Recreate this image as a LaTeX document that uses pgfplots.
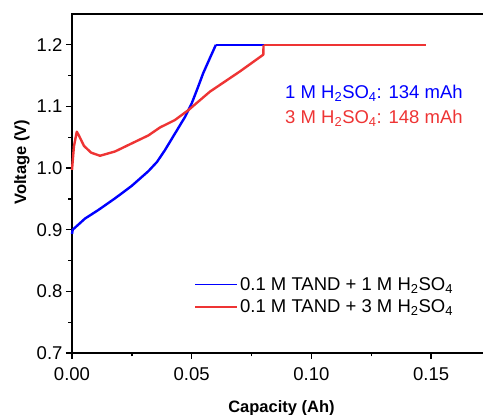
\documentclass[border=0pt]{standalone}
\usepackage{fontspec}
\setmainfont{Liberation Sans}
\usepackage{pgfplots}
\pgfplotsset{compat=1.18}
\definecolor{myblue}{RGB}{0,0,255}
\definecolor{myred}{RGB}{238,52,52}
\begin{document}
\begin{tikzpicture}
\begin{axis}[
  scale only axis,
  width=419pt, height=339pt,
  xmin=0, xmax=0.175, ymin=0.7, ymax=1.25,
  xtick={0,0.05,0.1,0.15},
  ytick={0.7,0.8,0.9,1.0,1.1,1.2},
  minor x tick num=1, minor y tick num=1,
  tick pos=left, tick align=outside,
  major tick length=6pt, minor tick length=3.5pt,
  every tick/.style={black, line width=1.3pt},
  axis line style={line width=1.6pt},
  /pgf/number format/assume math mode=true,
  xticklabel style={yshift=-5pt, /pgf/number format/.cd, fixed, fixed zerofill, precision=2},
  yticklabel style={/pgf/number format/.cd, fixed, fixed zerofill, precision=1},
  tick label style={font=\fontsize{18.5}{20}\selectfont},
  xlabel={\textbf{Capacity (Ah)}},
  ylabel={\textbf{Voltage (V)}},
  label style={font=\fontsize{16.5}{18}\selectfont},
  xlabel style={at={(rel axis cs:0.5,0)}, anchor=center, yshift=-55pt},
  ylabel style={at={(rel axis cs:0,0.563)}, anchor=center, yshift=50pt},
  legend style={at={(rel axis cs:0.285,0.235)}, anchor=north west, draw=none, fill=none,
    font=\fontsize{18.5}{20}\selectfont, row sep=4pt},
  legend cell align=left,
  legend image code/.code={\draw[#1, line width=1.5pt] (0pt,0pt) -- (42pt,0pt);},
  clip=false,
]
\addplot[myblue, line width=2.4pt, line join=round] coordinates {
(0,0.893) (0.0003,0.900) (0.002,0.906) (0.0054,0.918) (0.011,0.932) (0.018,0.951)
(0.0249,0.971) (0.0319,0.995) (0.0355,1.010) (0.0388,1.029) (0.043,1.056)
(0.0472,1.083) (0.050,1.105) (0.0525,1.130) (0.0548,1.154) (0.058,1.182) (0.0601,1.200)
};
\addplot[myblue, line width=1.8pt, forget plot] coordinates {(0.0601,1.200) (0.134,1.200)};
\addlegendentry{0.1 M TAND + 1 M H\textsubscript{2}SO\textsubscript{4}}
\addplot[myred, line width=2.4pt, line join=round] coordinates {
(0,0.997) (0.0008,1.035) (0.002,1.059) (0.003,1.052) (0.005,1.036) (0.008,1.025)
(0.0117,1.020) (0.018,1.027) (0.0228,1.036) (0.0319,1.053) (0.0368,1.066)
(0.043,1.078) (0.0486,1.094) (0.0576,1.124) (0.0702,1.157) (0.0799,1.184)
(0.0800,1.200)
};
\addlegendentry{0.1 M TAND + 3 M H\textsubscript{2}SO\textsubscript{4}}
\addplot[myred, line width=1.8pt, forget plot] coordinates {(0.0800,1.200) (0.148,1.200)};
\node[anchor=base east, text=myblue, font=\fontsize{18.5}{20}\selectfont, inner sep=0pt]
  at (rel axis cs:0.933,0.751) {1 M H\textsubscript{2}SO\textsubscript{4}: 134 mAh};
\node[anchor=base east, text=myred, font=\fontsize{18.5}{20}\selectfont, inner sep=0pt]
  at (rel axis cs:0.933,0.677) {3 M H\textsubscript{2}SO\textsubscript{4}: 148 mAh};
\coordinate (O) at (rel axis cs:0,0);
\end{axis}
\pgfresetboundingbox
\path[use as bounding box] ([shift={(-72pt,-62pt)}]O) rectangle ([shift={(411pt,353pt)}]O);
\end{tikzpicture}
\end{document}
